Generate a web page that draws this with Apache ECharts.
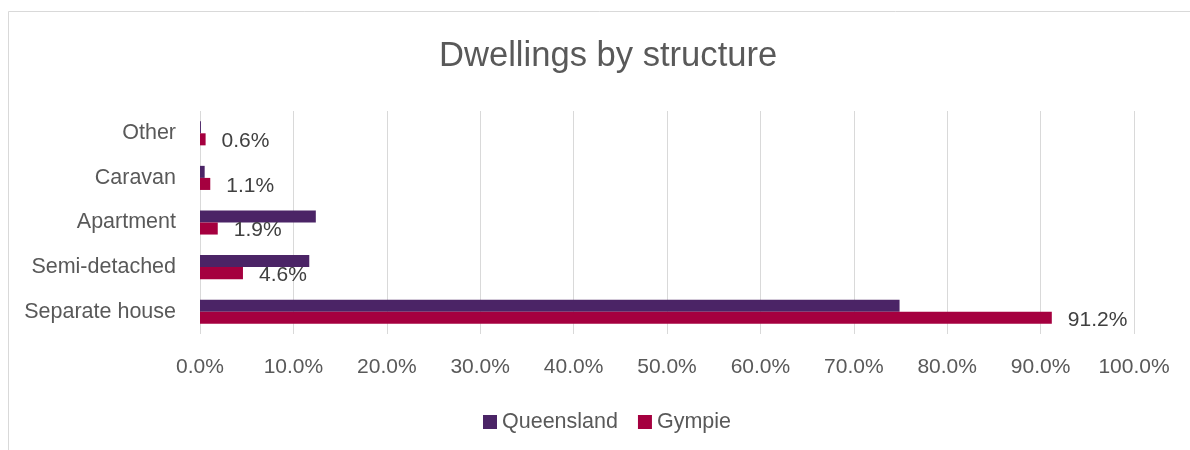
<!DOCTYPE html>
<html>
<head>
<meta charset="utf-8">
<script src="https://cdn.jsdelivr.net/npm/echarts@6/dist/echarts.min.js"></script>
<style>
  html, body { margin: 0; padding: 0; background: #ffffff; }
  #chart { width: 1190px; height: 450px; }
</style>
</head>
<body>
<div id="chart"></div>
<script>
// categories, bottom to top
const categories = ['Separate house', 'Semi-detached', 'Apartment', 'Caravan', 'Other'];
const seriesNames = ['Queensland', 'Gympie'];
const queensland = [74.9, 11.7, 12.4, 0.5, 0.1];
const gympie = [91.2, 4.6, 1.9, 1.1, 0.6];
const xTicks = [0, 10, 20, 30, 40, 50, 60, 70, 80, 90, 100];

const fontFamily = 'Liberation Sans, Arial, sans-serif';

const chart = echarts.init(document.getElementById('chart'));
chart.setOption({
    backgroundColor: '#ffffff',
    animation: false,
    graphic: [
        {
            type: 'polyline',
            shape: { points: [[8.5, 460], [8.5, 11.5], [1200, 11.5]] },
            style: { stroke: '#d9d9d9', lineWidth: 1, fill: null },
        },
    ],
    title: {
        text: 'Dwellings by structure',
        left: 434,
        top: 34,
        textStyle: {
            fontFamily: fontFamily,
            fontSize: 34.6,
            fontWeight: 'normal',
            color: '#595959',
        },
    },
    legend: {
        data: seriesNames,
        bottom: 12,
        left: 478,
        itemWidth: 14,
        itemHeight: 14,
        itemGap: 20,
        icon: 'rect',
        textStyle: {
            fontFamily: fontFamily,
            fontSize: 21.5,
            color: '#595959',
        },
    },
    grid: {
        left: 200,
        right: 56,
        top: 111,
        bottom: 116,
    },
    xAxis: {
        type: 'value',
        min: xTicks[0],
        max: xTicks[xTicks.length - 1],
        interval: 10,
        axisLine: { show: false },
        axisTick: { show: false },
        splitLine: { lineStyle: { color: '#d9d9d9', width: 1 } },
        axisLabel: {
            margin: 23,
            fontFamily: fontFamily,
            fontSize: 21,
            color: '#595959',
            formatter: function (v) { return v.toFixed(1) + '%'; },
        },
    },
    yAxis: {
        type: 'category',
        data: categories,
        axisLine: { show: false },
        axisTick: { show: false },
        axisLabel: {
            margin: 24,
            fontFamily: fontFamily,
            fontSize: 21.5,
            color: '#595959',
        },
    },
    series: [
        {
            name: seriesNames[0],
            type: 'bar',
            data: queensland,
            barGap: '0%',
            barCategoryGap: '46%',
            itemStyle: { color: '#4b2466' },
        },
        {
            name: seriesNames[1],
            type: 'bar',
            data: gympie,
            barGap: '0%',
            barCategoryGap: '46%',
            itemStyle: { color: '#a5003f' },
            label: {
                show: true,
                position: 'right',
                distance: 16,
                offset: [0, 2],
                fontFamily: fontFamily,
                fontSize: 21,
                color: '#404040',
                formatter: function (p) { return p.value.toFixed(1) + '%'; },
            },
        },
    ],
});
</script>
</body>
</html>
